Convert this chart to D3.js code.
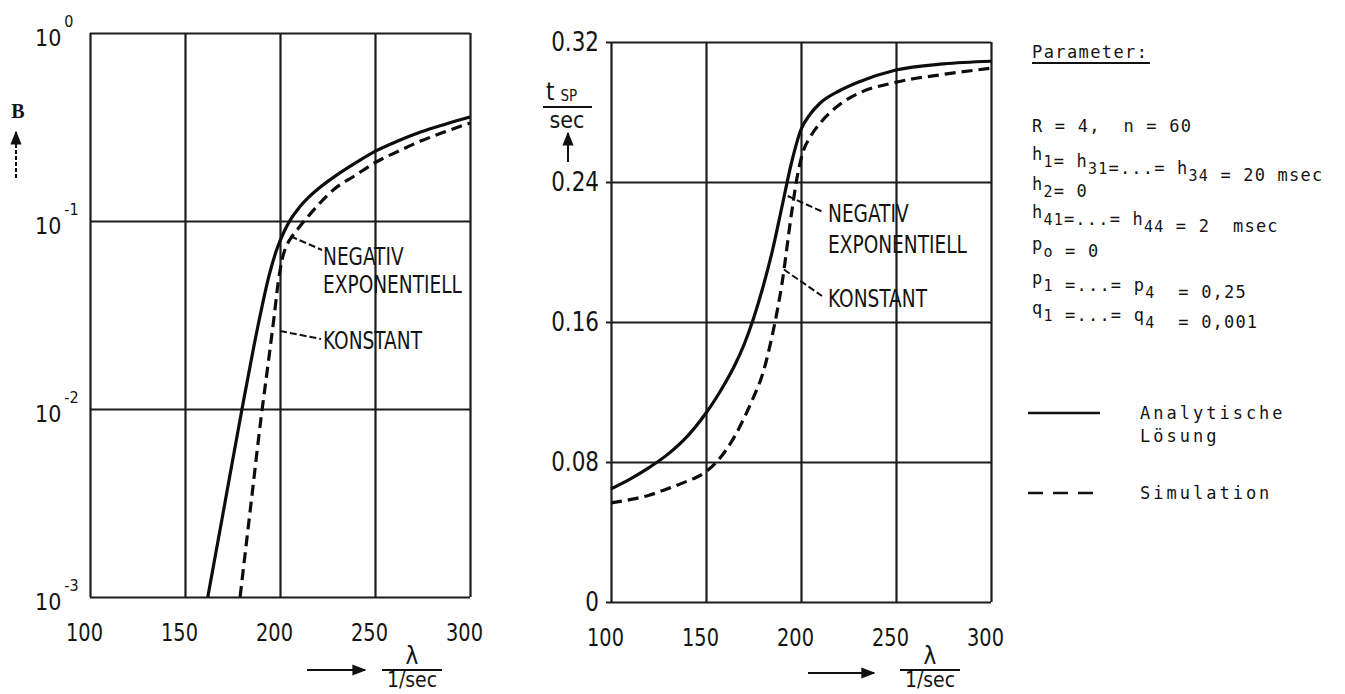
<!DOCTYPE html>
<html>
<head>
<meta charset="utf-8">
<script src="https://cdn.jsdelivr.net/npm/d3@7"></script>
<style>
  body { margin: 0; background: #fff; }
  svg text { fill: #141414; }
</style>
</head>
<body>
<svg id="chart" width="1345" height="694"></svg>
<script>
// Achsen
const lambdaTicks = [100, 150, 200, 250, 300];
const bTicks = [1, 0.1, 0.01, 0.001];
const bExponents = ["0", "-1", "-2", "-3"];
const tTicks = [0, 0.08, 0.16, 0.24, 0.32];
const tTickLabels = ["0", "0.08", "0.16", "0.24", "0.32"];

// linkes Diagramm: B über lambda (log)
const bAnalytLambda = [162, 170, 180, 186, 190, 194, 198, 202, 206, 210, 215, 220, 230, 240, 250, 262, 274, 287, 300];
const bAnalyt       = [0.001, 0.00278, 0.01, 0.0209, 0.0331, 0.0501, 0.0692, 0.0871, 0.1035, 0.1175, 0.1334, 0.1479, 0.1758, 0.2042, 0.2344, 0.2661, 0.2972, 0.3273, 0.3573];
const bSimLambda = [179, 185, 190, 194, 197, 199, 201, 203.5, 206.5, 210, 214, 221, 228, 240, 250, 262, 274, 287, 300];
const bSim       = [0.001, 0.00331, 0.00891, 0.0182, 0.0316, 0.0468, 0.0617, 0.0741, 0.0832, 0.0923, 0.1035, 0.1245, 0.1462, 0.1758, 0.2042, 0.2344, 0.2661, 0.2985, 0.3319];

// rechtes Diagramm: t_SP über lambda
const tAnalytLambda = [100, 110, 120, 130, 140, 150, 155, 160, 165, 170, 175, 180, 185, 190, 195, 200, 205, 210, 220, 230, 250, 275, 300];
const tAnalyt       = [0.0646, 0.0702, 0.0768, 0.0845, 0.0945, 0.108, 0.116, 0.125, 0.135, 0.147, 0.162, 0.18, 0.201, 0.226, 0.251, 0.27, 0.279, 0.285, 0.292, 0.297, 0.304, 0.3075, 0.309];
const tSimLambda = [100, 110, 120, 130, 140, 145, 150, 155, 160, 165, 170, 175, 180, 185, 190, 195, 198, 201, 205, 210, 220, 230, 250, 275, 300];
const tSim       = [0.0566, 0.0585, 0.061, 0.0648, 0.069, 0.0713, 0.0745, 0.0793, 0.086, 0.0945, 0.105, 0.117, 0.131, 0.153, 0.182, 0.222, 0.243, 0.257, 0.266, 0.2735, 0.284, 0.2905, 0.297, 0.3015, 0.305];

// Parametertext
const paramLines = [
  "R = 4,  n = 60",
  "h_{1}= h_{31}=...= h_{34} = 20 msec",
  "h_{2}= 0",
  "h_{41}=...= h_{44} = 2  msec",
  "p_{o} = 0",
  "p_{1} =...= p_{4}  = 0,25",
  "q_{1} =...= q_{4}  = 0,001"
];

const sans = "'Liberation Sans Narrow','DejaVu Sans Condensed','Liberation Sans',sans-serif";
const mono = "'DejaVu Sans Mono','Liberation Mono',monospace";
const ink = "#111";
const squeeze = 0.86;

const svg = d3.select("#chart");

// Pfeilspitze
svg.append("defs").append("marker")
  .attr("id", "head").attr("viewBox", "0 0 10 10")
  .attr("refX", 9).attr("refY", 5)
  .attr("markerWidth", 7).attr("markerHeight", 7)
  .attr("orient", "auto-start-reverse")
  .append("path").attr("d", "M0,1 L10,5 L0,9 z").attr("fill", ink);

const drawGrid = (g, x, y, w, h, yVals) => {
  g.append("g")
    .attr("transform", `translate(0,${h})`)
    .call(d3.axisBottom(x).tickValues(lambdaTicks).tickSize(-h).tickFormat(""))
    .call(s => s.select(".domain").remove())
    .selectAll("line").attr("stroke", "#1c1c1c").attr("stroke-width", 2.2);
  g.append("g")
    .call(d3.axisLeft(y).tickValues(yVals).tickSize(-w).tickFormat(""))
    .call(s => s.select(".domain").remove())
    .selectAll("line").attr("stroke", "#1c1c1c").attr("stroke-width", 2.2);
  // x-Beschriftung
  g.append("g")
    .attr("transform", `translate(-6,${h})`)
    .call(d3.axisBottom(x).tickValues(lambdaTicks).tickSize(0).tickPadding(26))
    .call(s => s.select(".domain").remove())
    .selectAll("text")
    .attr("transform", `scale(${squeeze},1)`)
    .style("font-family", sans).style("font-size", "25px").attr("fill", ink);
};

const drawCurve = (g, line, xs, ys, dashed) => {
  g.append("path")
    .datum(xs.map((d, i) => [d, ys[i]]))
    .attr("d", line)
    .attr("fill", "none")
    .attr("stroke", "#0d0d0d")
    .attr("stroke-width", 3.2)
    .attr("stroke-dasharray", dashed ? "11,6" : null);
};

const leader = (x1, y1, x2, y2) => {
  svg.append("line")
    .attr("x1", x1).attr("y1", y1).attr("x2", x2).attr("y2", y2)
    .attr("stroke", ink).attr("stroke-width", 2).attr("stroke-dasharray", "7,3");
};

// schmale Beschriftung
const label = (x, y, txt, size) => {
  svg.append("text")
    .attr("transform", `translate(${x},${y}) scale(${squeeze},1)`)
    .style("font-family", sans).style("font-size", (size || 24) + "px")
    .text(txt);
};

const xFraction = (cx, lineY) => {
  svg.append("text").attr("x", cx).attr("y", lineY - 6).attr("text-anchor", "middle")
    .style("font-family", sans).style("font-size", "24px").text("λ");
  svg.append("line").attr("x1", cx - 30).attr("x2", cx + 30).attr("y1", lineY).attr("y2", lineY)
    .attr("stroke", ink).attr("stroke-width", 2);
  svg.append("text").attr("x", cx).attr("y", lineY + 17).attr("text-anchor", "middle")
    .style("font-family", sans).style("font-size", "21px").text("1/sec");
};

const arrow = (x1, y1, x2, y2, dash) => {
  svg.append("line")
    .attr("x1", x1).attr("y1", y1).attr("x2", x2).attr("y2", y2)
    .attr("stroke", ink).attr("stroke-width", 2)
    .attr("stroke-dasharray", dash || null)
    .attr("marker-end", "url(#head)");
};

// ---------- linkes Diagramm ----------
const L = { x: 90, y: 33, w: 380, h: 564 };
const xL = d3.scaleLinear().domain([100, 300]).range([0, L.w]);
const yL = d3.scaleLog().domain([0.001, 1]).range([L.h, 0]);
const gL = svg.append("g").attr("transform", `translate(${L.x},${L.y})`);
drawGrid(gL, xL, yL, L.w, L.h, bTicks);

// y-Beschriftung 10^n
const yAxisL = gL.append("g")
  .call(d3.axisLeft(yL).tickValues(bTicks).tickSize(0).tickFormat(""))
  .call(s => s.select(".domain").remove());
yAxisL.selectAll(".tick text").each(function (d, i) {
  const t = d3.select(this)
    .attr("x", -55).attr("dy", null).attr("y", 12)
    .attr("text-anchor", "start")
    .style("font-family", sans).attr("fill", ink);
  t.append("tspan").style("font-size", "23px").text("10");
  t.append("tspan").attr("dx", 3).attr("dy", -19).style("font-size", "16px").text(bExponents[i]);
});

const lineL = d3.line().x(d => xL(d[0])).y(d => yL(d[1])).curve(d3.curveMonotoneX);
drawCurve(gL, lineL, bAnalytLambda, bAnalyt, false);
drawCurve(gL, lineL, bSimLambda, bSim, true);

// Achsentitel links
svg.append("text").attr("x", 18).attr("y", 118).attr("text-anchor", "middle")
  .style("font-family", "'Liberation Serif','DejaVu Serif',serif").style("font-size", "20px")
  .style("font-weight", "bold").text("B");
arrow(16, 178, 16, 132, "4,2");
arrow(307, 670, 365, 670);
xFraction(412, 670);

// Anmerkungen links
leader(L.x + xL(205.5), L.y + yL(0.083), 322, 250);
label(323, 265, "NEGATIV");
label(323, 293, "EXPONENTIELL");
leader(L.x + xL(200), L.y + yL(0.026), 321, 339);
label(323, 349, "KONSTANT");

// ---------- rechtes Diagramm ----------
const R = { x: 611, y: 42, w: 380, h: 560 };
const xR = d3.scaleLinear().domain([100, 300]).range([0, R.w]);
const yR = d3.scaleLinear().domain([0, 0.32]).range([R.h, 0]);
const gR = svg.append("g").attr("transform", `translate(${R.x},${R.y})`);
drawGrid(gR, xR, yR, R.w, R.h, tTicks);

gR.append("g")
  .call(d3.axisLeft(yR).tickValues(tTicks).tickSize(5).tickPadding(8).tickFormat((d, i) => tTickLabels[i]))
  .call(s => s.select(".domain").remove())
  .call(s => s.selectAll("line").attr("stroke", "#1c1c1c").attr("stroke-width", 2))
  .selectAll("text")
  .attr("transform", "scale(0.92,1)")
  .style("font-family", sans).style("font-size", "26px").attr("fill", ink);

const lineR = d3.line().x(d => xR(d[0])).y(d => yR(d[1])).curve(d3.curveMonotoneX);
drawCurve(gR, lineR, tAnalytLambda, tAnalyt, false);
drawCurve(gR, lineR, tSimLambda, tSim, true);

// Achsentitel rechts: t_SP / sec
const tsp = svg.append("text").attr("x", 546).attr("y", 100)
  .style("font-family", sans).attr("fill", ink);
tsp.append("tspan").style("font-size", "24px").text("t");
tsp.append("tspan").attr("dx", 6).attr("dy", 1).style("font-size", "15px").text("SP");
svg.append("line").attr("x1", 543).attr("x2", 592).attr("y1", 107).attr("y2", 107)
  .attr("stroke", ink).attr("stroke-width", 2);
svg.append("text").attr("x", 567).attr("y", 128).attr("text-anchor", "middle")
  .style("font-family", sans).style("font-size", "23px").text("sec");
arrow(568, 162, 568, 133);
arrow(808, 673, 874, 673);
xFraction(930, 670);

// Anmerkungen rechts
leader(R.x + xR(193), R.y + yR(0.232), 823, 212);
label(828, 222, "NEGATIV");
label(828, 253, "EXPONENTIELL");
leader(R.x + xR(191), R.y + yR(0.19), 822, 296);
label(828, 307, "KONSTANT");

// ---------- Parameter ----------
svg.append("text").attr("x", 1032).attr("y", 58)
  .style("font-family", mono).style("font-size", "17px").style("letter-spacing", "1.4px")
  .text("Parameter:");
svg.append("line").attr("x1", 1032).attr("x2", 1150).attr("y1", 63).attr("y2", 63)
  .attr("stroke", ink).attr("stroke-width", 2);

const paramY = [132, 160, 190, 218, 250, 284, 314];
paramLines.forEach((s, i) => {
  const t = svg.append("text").attr("x", 1032).attr("y", paramY[i])
    .style("font-family", mono).style("font-size", "17px").style("letter-spacing", "1.2px")
    .style("white-space", "pre");
  const parts = s.split(/_\{([^}]*)\}/);
  parts.forEach((p, j) => {
    if (p === "") return;
    if (j % 2 === 1) {
      t.append("tspan").attr("dy", 7).style("font-size", "15px").text(p);
      t.append("tspan").attr("dy", -7).text("");
    } else {
      t.append("tspan").text(p);
    }
  });
});

// Legende
const legendItems = [
  { y: 413, dash: null, text: ["Analytische", "Lösung"] },
  { y: 493, dash: "15,10", text: ["Simulation"] }
];
legendItems.forEach(it => {
  svg.append("line").attr("x1", 1028).attr("x2", 1100).attr("y1", it.y).attr("y2", it.y)
    .attr("stroke", ink).attr("stroke-width", 2.4).attr("stroke-dasharray", it.dash);
  it.text.forEach((tx, k) => {
    svg.append("text").attr("x", 1140).attr("y", it.y + 6 + k * 23)
      .style("font-family", mono).style("font-size", "17px").style("letter-spacing", "3px")
      .text(tx);
  });
});
</script>
</body>
</html>
